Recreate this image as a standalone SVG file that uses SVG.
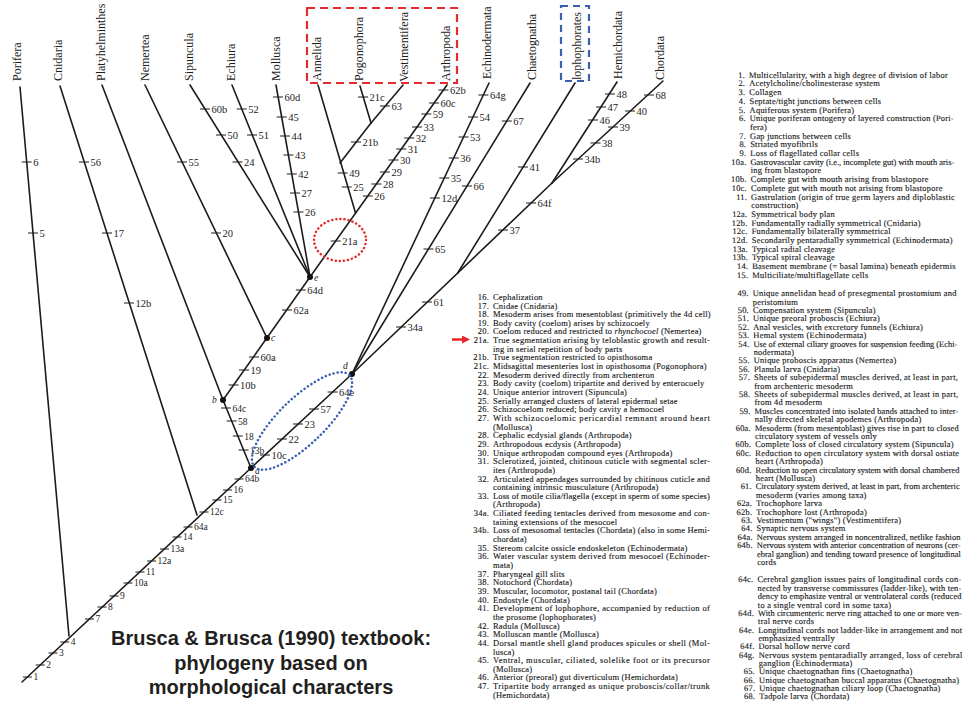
<svg xmlns="http://www.w3.org/2000/svg" width="968" height="702" viewBox="0 0 968 702">
<style>
.br{stroke:#1c1c1c;stroke-width:1.6;fill:none;stroke-linecap:round}
.tk{stroke:#1c1c1c;stroke-width:1.2;fill:none}
.tl{font-family:"Liberation Serif","DejaVu Serif",serif;font-size:10.5px;fill:#1c1c1c}
.ts{font-family:"Liberation Serif","DejaVu Serif",serif;font-size:9.5px;fill:#1c1c1c}
.tx{font-family:"Liberation Serif","DejaVu Serif",serif;font-size:12px;fill:#1c1c1c}
.nd{fill:#111}
.nl{font-family:"Liberation Serif",serif;font-style:italic;font-size:9.5px;fill:#1c1c1c}
.ls,.rs{font-family:"Liberation Serif","DejaVu Serif",serif;font-size:8.5px;letter-spacing:0.2px;fill:#161616;stroke:#161616;stroke-width:0.12}
.num{text-anchor:end}
.cap{font-family:"Liberation Sans",Arial,sans-serif;font-weight:bold;font-size:20px;fill:#231f20;text-anchor:middle}
.it{font-style:italic}
</style>
<defs>
<marker id="ah" markerWidth="8" markerHeight="8" refX="1" refY="4" orient="auto" markerUnits="userSpaceOnUse">
<path d="M0 0L8 4L0 8Z" fill="#e8262a"/>
</marker>
</defs>
<rect width="968" height="702" fill="#ffffff"/>

<g id="connectors">
<path class="br" d="M22 682L251 468"/>
<path class="br" d="M69 636L20 87"/>
<path class="br" d="M197 515L60 86"/>
<path class="br" d="M251 468L223 400"/>
<path class="br" d="M223 400L102 85"/>
<path class="br" d="M223 400L310 277"/>
<path class="br" d="M267 338L145 85"/>
<path class="br" d="M310 277L190 85"/>
<path class="br" d="M310 277L232 85"/>
<path class="br" d="M310 277L276 85"/>
<path class="br" d="M310 277L447 85"/>
<path class="br" d="M355.5 213L318 85"/>
<path class="br" d="M340 163L371 123"/>
<path class="br" d="M371 123L360 86"/>
<path class="br" d="M371 123L403 85"/>
<path class="br" d="M251 468L352 374"/>
<path class="br" d="M352 374L489 83"/>
<path class="br" d="M352 374L530 83"/>
<path class="br" d="M352 374L552 183"/>
<path class="br" d="M457.7 273L575 83"/>
<path class="br" d="M552 183L617 82"/>
<path class="br" d="M552 183L663 81"/>
</g>

<g id="nodes">
<g id="node-a"><circle class="nd" cx="251" cy="468" r="3"/><text class="nl" x="255" y="474">a</text></g>
<g id="node-b"><circle class="nd" cx="223" cy="400" r="3"/><text class="nl" x="212" y="403">b</text></g>
<g id="node-c"><circle class="nd" cx="267" cy="338" r="3"/><text class="nl" x="271" y="341">c</text></g>
<g id="node-d"><circle class="nd" cx="352" cy="374" r="3"/><text class="nl" x="343" y="369">d</text></g>
<g id="node-e"><circle class="nd" cx="310" cy="277" r="3"/><text class="nl" x="314" y="281">e</text></g>
</g>

<g id="taxa" class="tx">
<g id="taxon-porifera"><text transform="translate(21,81) rotate(-90)">Porifera</text></g>
<g id="taxon-cnidaria"><text transform="translate(62,81) rotate(-90)">Cnidaria</text></g>
<g id="taxon-platyhelminthes"><text transform="translate(105,81) rotate(-90)">Platyhelminthes</text></g>
<g id="taxon-nemertea"><text transform="translate(149,81) rotate(-90)">Nemertea</text></g>
<g id="taxon-sipuncula"><text transform="translate(193,81) rotate(-90)">Sipuncula</text></g>
<g id="taxon-echiura"><text transform="translate(235,81) rotate(-90)">Echiura</text></g>
<g id="taxon-mollusca"><text transform="translate(280,81) rotate(-90)">Mollusca</text></g>
<g id="taxon-annelida"><text transform="translate(321,81) rotate(-90)">Annelida</text></g>
<g id="taxon-pogonophora"><text transform="translate(363,81) rotate(-90)">Pogonophora</text></g>
<g id="taxon-vestimentifera"><text transform="translate(408,82) rotate(-90)">Vestimentifera</text></g>
<g id="taxon-arthropoda"><text transform="translate(450,81) rotate(-90)">Arthropoda</text></g>
<g id="taxon-echinodermata"><text transform="translate(491,79) rotate(-90)">Echinodermata</text></g>
<g id="taxon-chaetognatha"><text transform="translate(536,80) rotate(-90)">Chaetognatha</text></g>
<g id="taxon-lophophorates"><text transform="translate(580.5,80) rotate(-90)">lophophorates</text></g>
<g id="taxon-hemichordata"><text transform="translate(622,79) rotate(-90)">Hemichordata</text></g>
<g id="taxon-chordata"><text transform="translate(664,80) rotate(-90)">Chordata</text></g>
</g>

<g id="characters">
<path class="tk" d="M21.7 162h10M28 233h10M79 162h10M102 233h10M124 303h10M177 162h10M211 233h10M200 109h10M216 135h10M232.5 162h10M236.7 109h10M247 135h10M273 97h10M276.7 117h10M280 136h10M283.4 155h10M286.8 174h10M290 193h10M293.5 212h10M337.7 173h10M341.7 187h10M351 142h10M358 97h10M380 106h10M330.7 241h10M362.8 196h10M371.4 184h10M379.9 172h10M388.5 160h10M396.3 149h10M404.2 138h10M412 127h10M421.3 114h10M429.1 103h10M438.4 90h10M478.4 95h10M468 117h10M458.6 137h10M448.7 158h10M439.3 178h10M429.9 198h10M501.8 121h10M462 186h10M423.5 249h10M518 167h10M396 327h10M422 302h10M498 230h10M526 203h10M588 120h10M596 107h10M605 94h10M573 159h10M590.5 143h10M608 127h10M625 111h10M644 95h10M221 408h10M226.6 421h10M232.8 436h10M238.6 450h10M228.6 385h10M239 370h10M249 357h10M282 310h10M295.8 290h10M260 455h10M277 439h10M293 424h10M309 409h10M327.6 392h10"/>
<path class="tk" d="M22.9 677h9M35.7 665h9M48.5 653h9M60.3 642h9M85 619h9M97.5 607h9M109.5 596h9M123.5 583h9M135.5 572h9M147.1 561h9M160 549h9M172.5 537h9M183.5 527h9M199.5 512h9M212.5 500h9M223.1 490h9M234.5 479h9"/>
<g class="tl">
<text x="33.2" y="165.5">6</text><text x="39.5" y="236.5">5</text>
<text x="90.5" y="165.5">56</text><text x="113.5" y="236.5">17</text><text x="135.5" y="306.5">12b</text>
<text x="188.5" y="165.5">55</text><text x="222.5" y="236.5">20</text>
<text x="211.5" y="112.5">60b</text><text x="227.5" y="138.5">50</text><text x="244" y="165.5">24</text>
<text x="248.2" y="112.5">52</text><text x="258.5" y="138.5">51</text>
<text x="284.5" y="100.5">60d</text><text x="288.2" y="120.5">45</text><text x="291.5" y="139.5">44</text><text x="294.9" y="158.5">43</text><text x="298.3" y="177.5">42</text><text x="301.5" y="196.5">27</text><text x="305" y="215.5">26</text>
<text x="349.2" y="176.5">49</text><text x="353.2" y="190.5">25</text>
<text x="362.5" y="145.5">21b</text><text x="369.5" y="100.5">21c</text><text x="391.5" y="109.5">63</text>
<text x="342.2" y="244.5">21a</text><text x="374.3" y="199.5">26</text><text x="382.9" y="187.5">28</text><text x="391.4" y="175.5">29</text><text x="400" y="163.5">30</text><text x="407.8" y="152.5">31</text><text x="415.7" y="141.5">32</text><text x="423.5" y="130.5">33</text><text x="432.8" y="117.5">59</text><text x="440.6" y="106.5">60c</text><text x="449.9" y="93.5">62b</text>
<text x="489.9" y="98.5">64g</text><text x="479.5" y="120.5">54</text><text x="470.1" y="140.5">53</text><text x="460.2" y="161.5">36</text><text x="450.8" y="181.5">35</text><text x="441.4" y="201.5">12d</text>
<text x="513.3" y="124.5">67</text><text x="473.5" y="189.5">66</text><text x="435" y="252.5">65</text>
<text x="529.5" y="170.5">41</text>
<text x="407.5" y="330.5">34a</text><text x="433.5" y="305.5">61</text><text x="509.5" y="233.5">37</text><text x="537.5" y="206.5">64f</text>
<text x="599.5" y="123.5">46</text><text x="607.5" y="110.5">47</text><text x="616.5" y="97.5">48</text>
<text x="584.5" y="162.5">34b</text><text x="602" y="146.5">38</text><text x="619.5" y="130.5">39</text><text x="636.5" y="114.5">40</text><text x="655.5" y="98.5">68</text>
<text x="240.1" y="388.5">10b</text><text x="250.5" y="373.5">19</text><text x="260.5" y="360.5">60a</text><text x="293.5" y="313.5">62a</text><text x="307.3" y="293.5">64d</text>
<text x="271.5" y="458.5">10c</text><text x="288.5" y="442.5">22</text><text x="304.5" y="427.5">23</text><text x="320.5" y="412.5">57</text><text x="339.1" y="395.5">64e</text>
</g>
<g class="ts">
<text x="232.5" y="411.5">64c</text><text x="238.1" y="424.5">58</text><text x="244.3" y="439.5">18</text><text x="250.1" y="453.5">13b</text>
<text x="33.4" y="680.3">1</text><text x="46.2" y="668.3">2</text><text x="59" y="656.3">3</text><text x="70.8" y="645.3">4</text><text x="95.5" y="622.3">7</text><text x="108" y="610.3">8</text><text x="120" y="599.3">9</text><text x="134" y="586.3">10a</text><text x="146" y="575.3">11</text><text x="157.6" y="564.3">12a</text><text x="170.5" y="552.3">13a</text><text x="183" y="540.3">14</text><text x="194" y="530.3">64a</text><text x="210" y="515.3">12c</text><text x="223" y="503.3">15</text><text x="233.6" y="493.3">16</text><text x="245" y="482.3">64b</text>
</g>
</g>

<g id="highlights" fill="none">
<rect x="307" y="8" width="150" height="75" stroke="#e52b2b" stroke-width="2.2" stroke-dasharray="8 5"/>
<rect x="561" y="6" width="28" height="75" stroke="#3a5fb0" stroke-width="2.2" stroke-dasharray="7 5"/>
<ellipse cx="340" cy="240" rx="26" ry="21" stroke="#e52b2b" stroke-width="2.5" stroke-dasharray="0.1 4" stroke-linecap="round"/>
<ellipse cx="0" cy="0" rx="66" ry="23" transform="translate(302,421) rotate(-44)" stroke="#3a5fb0" stroke-width="2.5" stroke-dasharray="0.1 4" stroke-linecap="round"/>
<path d="M452 339.5H463" stroke="#e8262a" stroke-width="2.5" marker-end="url(#ah)"/>
</g>

<g id="list-middle" class="ls">
<g class="num">
<text x="489" y="299.8">16.</text><text x="489" y="308.5">17.</text><text x="489" y="317.1">18.</text><text x="489" y="325.8">19.</text><text x="489" y="334.4">20.</text><text x="489" y="343.1">21a.</text>
<text x="489" y="360.4">21b.</text><text x="489" y="369">21c.</text><text x="489" y="377.7">22.</text><text x="489" y="386.3">23.</text><text x="489" y="395">24.</text><text x="489" y="403.6">25.</text><text x="489" y="412.3">26.</text><text x="489" y="420.9">27.</text>
<text x="489" y="438.2">28.</text><text x="489" y="446.9">29.</text><text x="489" y="455.5">30.</text><text x="489" y="464.2">31.</text><text x="489" y="481.5">32.</text><text x="489" y="498.8">33.</text><text x="489" y="516.1">34a.</text><text x="489" y="533.4">34b.</text><text x="489" y="550.7">35.</text><text x="489" y="559.3">36.</text>
<text x="489" y="576.6">37.</text><text x="489" y="585.3">38.</text><text x="489" y="593.9">39.</text><text x="489" y="602.6">40.</text><text x="489" y="611.2">41.</text><text x="489" y="628.5">42.</text><text x="489" y="637.2">43.</text><text x="489" y="645.8">44.</text><text x="489" y="663.1">45.</text><text x="489" y="680.4">46.</text><text x="489" y="689.1">47.</text>
</g>
<text x="493" y="299.8">Cephalization</text>
<text x="493" y="308.5">Cnidae (Cnidaria)</text>
<text x="493" y="317.1">Mesoderm arises from mesentoblast (primitively the 4d cell)</text>
<text x="493" y="325.8">Body cavity (coelom) arises by schizocoely</text>
<text x="493" y="334.4">Coelom reduced and restricted to <tspan class="it">rhynchocoel</tspan> (Nemertea)</text>
<text x="493" y="343.1" textLength="217" lengthAdjust="spacing">True segmentation arising by teloblastic growth and result-</text>
<text x="493" y="351.7">ing in serial repetition of body parts</text>
<text x="493" y="360.4">True segmentation restricted to opisthosoma</text>
<text x="493" y="369">Midsagittal mesenteries lost in opisthosoma (Pogonophora)</text>
<text x="493" y="377.7">Mesoderm derived directly from archenteron</text>
<text x="493" y="386.3">Body cavity (coelom) tripartite and derived by enterocoely</text>
<text x="493" y="395">Unique anterior introvert (Sipuncula)</text>
<text x="493" y="403.6">Serially arranged clusters of lateral epidermal setae</text>
<text x="493" y="412.3">Schizocoelom reduced; body cavity a hemocoel</text>
<text x="493" y="420.9" textLength="217" lengthAdjust="spacing">With schizocoelomic pericardial remnant around heart</text>
<text x="493" y="429.6">(Mollusca)</text>
<text x="493" y="438.2">Cephalic ecdysial glands (Arthropoda)</text>
<text x="493" y="446.9">Arthropodous ecdysis (Arthropoda)</text>
<text x="493" y="455.5">Unique arthropodan compound eyes (Arthropoda)</text>
<text x="493" y="464.2" textLength="217" lengthAdjust="spacing">Sclerotized, jointed, chitinous cuticle with segmental scler-</text>
<text x="493" y="472.8">ites (Arthropoda)</text>
<text x="493" y="481.5" textLength="217" lengthAdjust="spacing">Articulated appendages surrounded by chitinous cuticle and</text>
<text x="493" y="490.1">containing intrinsic musculature (Arthropoda)</text>
<text x="493" y="498.8" textLength="217" lengthAdjust="spacing">Loss of motile cilia/flagella (except in sperm of some species)</text>
<text x="493" y="507.4">(Arthropoda)</text>
<text x="493" y="516.1" textLength="217" lengthAdjust="spacing">Ciliated feeding tentacles derived from mesosome and con-</text>
<text x="493" y="524.7">taining extensions of the mesocoel</text>
<text x="493" y="533.4" textLength="217" lengthAdjust="spacing">Loss of mesosomal tentacles (Chordata) (also in some Hemi-</text>
<text x="493" y="542">chordata)</text>
<text x="493" y="550.7">Stereom calcite ossicle endoskeleton (Echinodermata)</text>
<text x="493" y="559.3" textLength="217" lengthAdjust="spacing">Water vascular system derived from mesocoel (Echinoder-</text>
<text x="493" y="568">mata)</text>
<text x="493" y="576.6">Pharyngeal gill slits</text>
<text x="493" y="585.3">Notochord (Chordata)</text>
<text x="493" y="593.9">Muscular, locomotor, postanal tail (Chordata)</text>
<text x="493" y="602.6">Endostyle (Chordata)</text>
<text x="493" y="611.2" textLength="217" lengthAdjust="spacing">Development of lophophore, accompanied by reduction of</text>
<text x="493" y="619.9">the prosome (lophophorates)</text>
<text x="493" y="628.5">Radula (Mollusca)</text>
<text x="493" y="637.2">Molluscan mantle (Mollusca)</text>
<text x="493" y="645.8" textLength="217" lengthAdjust="spacing">Dorsal mantle shell gland produces spicules or shell (Mol-</text>
<text x="493" y="654.5">lusca)</text>
<text x="493" y="663.1" textLength="217" lengthAdjust="spacing">Ventral, muscular, ciliated, solelike foot or its precursor</text>
<text x="493" y="671.8">(Mollusca)</text>
<text x="493" y="680.4">Anterior (preoral) gut diverticulum (Hemichordata)</text>
<text x="493" y="689.1" textLength="217" lengthAdjust="spacing">Tripartite body arranged as unique proboscis/collar/trunk</text>
<text x="493" y="697.7">(Hemichordata)</text>
</g>

<g id="list-right" class="rs" transform="matrix(1,0,0.0166,1,-1.25,0)">
<g class="num">
<text x="745" y="77.8">1.</text><text x="745" y="86.5">2.</text><text x="745" y="95.2">3.</text><text x="745" y="103.9">4.</text><text x="745" y="112.6">5.</text><text x="745" y="121.3">6.</text><text x="745" y="138.7">7.</text><text x="745" y="147.4">8.</text><text x="745" y="156.1">9.</text><text x="745" y="164.8">10a.</text><text x="745" y="182.2">10b.</text><text x="745" y="190.9">10c.</text><text x="745" y="199.6">11.</text><text x="745" y="217">12a.</text><text x="745" y="225.7">12b.</text><text x="745" y="234.4">12c.</text><text x="745" y="243.1">12d.</text><text x="745" y="251.8">13a.</text><text x="745" y="260.5">13b.</text><text x="745" y="269.2">14.</text><text x="745" y="277.9">15.</text>
<text x="745" y="296.3">49.</text><text x="745" y="313.1">50.</text><text x="745" y="321.5">51.</text><text x="745" y="329.9">52.</text><text x="745" y="338.3">53.</text><text x="745" y="346.7">54.</text><text x="745" y="363.5">55.</text><text x="745" y="371.9">56.</text><text x="745" y="380.3">57.</text><text x="745" y="397.1">58.</text><text x="745" y="413.9">59.</text><text x="745" y="430.7">60a.</text><text x="745" y="447.5">60b.</text><text x="745" y="455.9">60c.</text><text x="745" y="472.7">60d.</text><text x="745" y="489.5">61.</text><text x="745" y="506.3">62a.</text><text x="745" y="514.7">62b.</text><text x="745" y="523.1">63.</text><text x="745" y="531.5">64.</text><text x="745" y="539.9">64a.</text><text x="745" y="548.3">64b.</text>
<text x="745" y="582.5">64c.</text><text x="745" y="615.9">64d.</text><text x="745" y="632.6">64e.</text><text x="745" y="649.3">64f.</text><text x="745" y="657.6">64g.</text><text x="745" y="674.3">65.</text><text x="745" y="682.7">66.</text><text x="745" y="691">67.</text><text x="745" y="699.4">68.</text>
</g>
<text x="749" y="77.8">Multicellularity, with a high degree of division of labor</text>
<text x="749" y="86.5">Acetylcholine/cholinesterase system</text>
<text x="749" y="95.2">Collagen</text>
<text x="749" y="103.9">Septate/tight junctions between cells</text>
<text x="749" y="112.6">Aquiferous system (Porifera)</text>
<text x="749" y="121.3" textLength="204" lengthAdjust="spacing">Unique poriferan ontogeny of layered construction (Pori-</text>
<text x="749" y="130">fera)</text>
<text x="749" y="138.7">Gap junctions between cells</text>
<text x="749" y="147.4">Striated myofibrils</text>
<text x="749" y="156.1">Loss of flagellated collar cells</text>
<text x="749" y="164.8" textLength="204" lengthAdjust="spacing">Gastrovascular cavity (i.e., incomplete gut) with mouth aris-</text>
<text x="749" y="173.5">ing from blastopore</text>
<text x="749" y="182.2">Complete gut with mouth arising from blastopore</text>
<text x="749" y="190.9">Complete gut with mouth not arising from blastopore</text>
<text x="749" y="199.6" textLength="204" lengthAdjust="spacing">Gastrulation (origin of true germ layers and diploblastic</text>
<text x="749" y="208.3">construction)</text>
<text x="749" y="217">Symmetrical body plan</text>
<text x="749" y="225.7">Fundamentally radially symmetrical (Cnidaria)</text>
<text x="749" y="234.4">Fundamentally bilaterally symmetrical</text>
<text x="749" y="243.1">Secondarily pentaradially symmetrical (Echinodermata)</text>
<text x="749" y="251.8">Typical radial cleavage</text>
<text x="749" y="260.5">Typical spiral cleavage</text>
<text x="749" y="269.2">Basement membrane (= basal lamina) beneath epidermis</text>
<text x="749" y="277.9">Multiciliate/multiflagellate cells</text>
<text x="749" y="296.3" textLength="204" lengthAdjust="spacing">Unique annelidan head of presegmental prostomium and</text>
<text x="749" y="304.7">peristomium</text>
<text x="749" y="313.1">Compensation system (Sipuncula)</text>
<text x="749" y="321.5">Unique preoral proboscis (Echiura)</text>
<text x="749" y="329.9">Anal vesicles, with excretory funnels (Echiura)</text>
<text x="749" y="338.3">Hemal system (Echinodermata)</text>
<text x="749" y="346.7" textLength="204" lengthAdjust="spacing">Use of external ciliary grooves for suspension feeding (Echi-</text>
<text x="749" y="355.1">nodermata)</text>
<text x="749" y="363.5">Unique proboscis apparatus (Nemertea)</text>
<text x="749" y="371.9">Planula larva (Cnidaria)</text>
<text x="749" y="380.3" textLength="204" lengthAdjust="spacing">Sheets of subepidermal muscles derived, at least in part,</text>
<text x="749" y="388.7">from archenteric mesoderm</text>
<text x="749" y="397.1" textLength="204" lengthAdjust="spacing">Sheets of subepidermal muscles derived, at least in part,</text>
<text x="749" y="405.5">from 4d mesoderm</text>
<text x="749" y="413.9" textLength="204" lengthAdjust="spacing">Muscles concentrated into isolated bands attached to inter-</text>
<text x="749" y="422.3">nally directed skeletal apodemes (Arthropoda)</text>
<text x="749" y="430.7" textLength="204" lengthAdjust="spacing">Mesoderm (from mesentoblast) gives rise in part to closed</text>
<text x="749" y="439.1">circulatory system of vessels only</text>
<text x="749" y="447.5">Complete loss of closed circulatory system (Sipuncula)</text>
<text x="749" y="455.9" textLength="204" lengthAdjust="spacing">Reduction to open circulatory system with dorsal ostiate</text>
<text x="749" y="464.3">heart (Arthropoda)</text>
<text x="749" y="472.7" textLength="204" lengthAdjust="spacing">Reduction to open circulatory system with dorsal chambered</text>
<text x="749" y="481.1">heart (Mollusca)</text>
<text x="749" y="489.5" textLength="204" lengthAdjust="spacing">Circulatory system derived, at least in part, from archenteric</text>
<text x="749" y="497.9">mesoderm (varies among taxa)</text>
<text x="749" y="506.3">Trochophore larva</text>
<text x="749" y="514.7">Trochophore lost (Arthropoda)</text>
<text x="749" y="523.1">Vestimentum ("wings") (Vestimentifera)</text>
<text x="749" y="531.5">Synaptic nervous system</text>
<text x="749" y="539.9" textLength="204" lengthAdjust="spacing">Nervous system arranged in noncentralized, netlike fashion</text>
<text x="749" y="548.3" textLength="204" lengthAdjust="spacing">Nervous system with anterior concentration of neurons (cer-</text>
<text x="749" y="556.7" textLength="204" lengthAdjust="spacing">ebral ganglion) and tending toward presence of longitudinal</text>
<text x="749" y="565.1">cords</text>
<text x="749" y="582.5" textLength="204" lengthAdjust="spacing">Cerebral ganglion issues pairs of longitudinal cords con-</text>
<text x="749" y="590.9" textLength="204" lengthAdjust="spacing">nected by transverse commissures (ladder-like), with ten-</text>
<text x="749" y="599.2" textLength="204" lengthAdjust="spacing">dency to emphasize ventral or ventrolateral cords (reduced</text>
<text x="749" y="607.6">to a single ventral cord in some taxa)</text>
<text x="749" y="615.9" textLength="204" lengthAdjust="spacing">With circumenteric nerve ring attached to one or more ven-</text>
<text x="749" y="624.3">tral nerve cords</text>
<text x="749" y="632.6" textLength="204" lengthAdjust="spacing">Longitudinal cords not ladder-like in arrangement and not</text>
<text x="749" y="641">emphasized ventrally</text>
<text x="749" y="649.3">Dorsal hollow nerve cord</text>
<text x="749" y="657.6" textLength="204" lengthAdjust="spacing">Nervous system pentaradially arranged, loss of cerebral</text>
<text x="749" y="666">ganglion (Echinodermata)</text>
<text x="749" y="674.3">Unique chaetognathan fins (Chaetognatha)</text>
<text x="749" y="682.7">Unique chaetognathan buccal apparatus (Chaetognatha)</text>
<text x="749" y="691">Unique chaetognathan ciliary loop (Chaetognatha)</text>
<text x="749" y="699.4">Tadpole larva (Chordata)</text>
</g>

<g id="caption" class="cap">
<text x="271" y="645">Brusca &amp; Brusca (1990) textbook:</text>
<text x="271" y="670">phylogeny based on</text>
<text x="271" y="694">morphological characters</text>
</g>
</svg>
